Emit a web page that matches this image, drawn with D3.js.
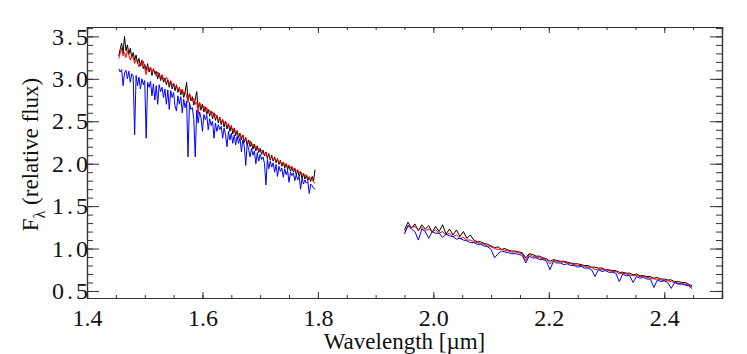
<!DOCTYPE html>
<html>
<head>
<meta charset="utf-8">
<script src="https://cdn.jsdelivr.net/npm/d3@7"></script>
<style>
  body { margin: 0; background: #fff; }
  svg { display: block; }
</style>
</head>
<body>
<div id="chart-area"></div>
<script>
// plot box inside the 747x354 window
const MARGIN = { LEFT: 87, RIGHT: 25, TOP: 27, BOTTOM: 56 }
const WIDTH = 747 - MARGIN.LEFT - MARGIN.RIGHT
const HEIGHT = 354 - MARGIN.TOP - MARGIN.BOTTOM
const FONT = "'Liberation Serif', 'Times New Roman', 'DejaVu Serif', serif"

// wavelength grids (microns): H band and K band
const H_START = 1.455, H_STEP = 0.0025
const K_START = 1.950, K_STEP = 0.006

// H band fluxes (1.455 - 1.795 um)
const hBlack = [
  3.27,3.35,3.42,3.30,3.50,3.33,3.40,3.29,3.36,3.25,
  3.31,3.22,3.28,3.18,3.24,3.15,3.22,3.12,3.17,3.10,
  3.18,3.08,3.14,3.04,3.12,3.06,3.09,3.00,3.07,2.98,
  3.04,2.96,3.01,2.93,2.99,2.90,2.97,2.88,2.94,2.86,
  2.93,2.84,2.90,2.81,2.87,2.78,2.84,2.96,2.76,2.82,
  2.74,2.79,2.69,2.75,2.85,2.66,2.72,2.63,2.70,2.61,
  2.67,2.58,2.64,2.56,2.62,2.53,2.60,2.51,2.57,2.48,
  2.55,2.46,2.52,2.43,2.50,2.41,2.47,2.38,2.45,2.35,
  2.42,2.33,2.39,2.30,2.36,2.28,2.34,2.25,2.31,2.22,
  2.28,2.20,2.25,2.17,2.23,2.15,2.21,2.13,2.18,2.11,
  2.16,2.09,2.14,2.06,2.12,2.04,2.10,2.03,2.08,2.01,
  2.06,1.99,2.04,1.97,2.02,1.95,2.00,1.93,1.98,1.91,
  1.96,1.90,1.94,1.87,1.92,1.85,1.90,1.83,1.88,1.82,
  1.86,1.80,1.84,1.79,1.85,1.80,1.93]
const hRed = [
  3.24,3.30,3.36,3.27,3.31,3.25,3.33,3.28,3.22,3.27,
  3.25,3.18,3.23,3.20,3.14,3.19,3.16,3.21,3.12,3.05,
  3.13,3.10,3.14,3.07,3.11,3.09,3.03,3.08,3.06,3.01,
  3.05,3.00,2.97,3.02,2.99,2.94,2.98,2.92,2.95,2.90,
  2.92,2.86,2.89,2.84,2.88,2.82,2.85,2.80,2.72,2.83,
  2.78,2.74,2.77,2.70,2.73,2.58,2.72,2.69,2.66,2.68,
  2.62,2.66,2.60,2.63,2.58,2.61,2.55,2.58,2.54,2.51,
  2.54,2.49,2.52,2.47,2.50,2.44,2.47,2.42,2.44,2.39,
  2.41,2.37,2.39,2.33,2.35,2.31,2.33,2.28,2.30,2.26,
  2.24,2.27,2.21,2.23,2.19,2.21,2.17,2.18,2.14,2.16,
  2.13,2.10,2.13,2.08,2.10,2.06,2.08,2.05,2.06,2.03,
  2.05,2.01,2.03,1.99,2.02,1.98,2.00,1.96,1.98,1.95,
  1.97,1.93,1.95,1.91,1.93,1.89,1.91,1.87,1.89,1.85,
  1.87,1.83,1.85,1.81,1.82,1.78,1.77]
const hBlue = [
  3.12,3.08,3.11,2.92,3.07,3.10,3.00,3.09,2.96,3.06,
  3.03,2.34,3.04,2.92,3.02,2.88,3.00,2.93,2.98,2.30,
  2.96,2.90,2.97,2.80,2.94,2.75,2.92,2.70,2.93,2.85,
  2.90,2.78,2.88,2.70,2.87,2.64,2.86,2.78,2.84,2.68,
  2.62,2.80,2.70,2.79,2.60,2.76,2.66,2.74,2.08,2.72,
  2.64,2.66,2.52,2.08,2.63,2.48,2.61,2.54,2.38,2.58,
  2.52,2.57,2.40,2.53,2.45,2.50,2.30,2.48,2.38,2.46,
  2.40,2.44,2.30,2.42,2.34,2.20,2.38,2.28,2.36,2.24,
  2.34,2.22,2.32,2.24,2.30,2.14,2.28,2.20,1.98,2.24,
  2.17,2.08,2.18,2.10,2.15,2.00,2.13,2.03,2.11,2.05,
  2.08,2.00,1.75,2.05,1.94,2.03,1.96,2.01,1.90,1.99,
  1.85,1.97,1.91,1.95,1.84,1.94,1.87,1.92,1.78,1.90,
  1.86,1.89,1.80,1.87,1.81,1.85,1.70,1.83,1.76,1.81,
  1.77,1.79,1.65,1.76,1.74,1.71,1.70]

// K band fluxes (1.950 - 2.448 um)
const kBlack = [
  1.22,1.31,1.24,1.29,1.21,1.28,1.23,1.27,1.19,1.26,1.20,1.28,1.17,1.23,1.16,1.22,1.14,1.20,1.12,1.16,
  1.10,1.08,1.08,1.06,1.05,1.03,1.01,1.02,0.99,1.00,0.98,0.97,0.97,0.96,0.95,0.89,0.94,0.93,0.91,0.91,
  0.89,0.88,0.85,0.87,0.86,0.85,0.85,0.84,0.83,0.82,0.82,0.81,0.80,0.80,0.78,0.78,0.77,0.77,0.75,0.75,
  0.74,0.74,0.72,0.72,0.71,0.71,0.69,0.70,0.68,0.68,0.67,0.67,0.65,0.66,0.64,0.64,0.63,0.63,0.61,0.61,
  0.60,0.60,0.58,0.56]
const kRed = [
  1.19,1.27,1.25,1.26,1.22,1.25,1.21,1.23,1.20,1.22,1.18,1.20,1.16,1.18,1.14,1.16,1.12,1.13,1.10,1.10,
  1.08,1.07,1.06,1.05,1.03,1.02,1.00,0.99,0.99,0.98,0.97,0.96,0.96,0.95,0.94,0.86,0.93,0.91,0.90,0.89,
  0.88,0.87,0.82,0.86,0.85,0.84,0.84,0.83,0.82,0.81,0.80,0.80,0.79,0.78,0.78,0.75,0.76,0.75,0.75,0.74,
  0.73,0.73,0.70,0.71,0.70,0.69,0.68,0.68,0.67,0.67,0.66,0.65,0.64,0.64,0.63,0.62,0.62,0.61,0.60,0.59,
  0.59,0.58,0.57,0.55]
const kBlue = [
  1.17,1.27,1.23,1.20,1.10,1.23,1.20,1.12,1.20,1.18,1.18,1.13,1.17,1.15,1.14,1.11,1.12,1.10,1.09,1.07,
  1.07,1.05,1.05,1.03,1.02,0.99,0.89,0.94,0.97,0.96,0.95,0.94,0.94,0.93,0.92,0.83,0.91,0.89,0.89,0.87,
  0.87,0.85,0.75,0.85,0.83,0.83,0.81,0.82,0.80,0.80,0.78,0.79,0.77,0.77,0.75,0.67,0.75,0.73,0.74,0.72,
  0.72,0.71,0.61,0.70,0.68,0.68,0.60,0.67,0.65,0.66,0.64,0.64,0.54,0.63,0.61,0.62,0.60,0.53,0.60,0.58,
  0.58,0.57,0.56,0.53]

const xTicks = [1.4, 1.6, 1.8, 2.0, 2.2, 2.4]
const yTicks = [0.5, 1.0, 1.5, 2.0, 2.5, 3.0, 3.5]

const svg = d3.select('#chart-area').append("svg")
    .attr("width", 747)
    .attr("height", 354)

const g = svg.append("g")
    .attr("transform", `translate(${MARGIN.LEFT},${MARGIN.TOP})`)

const x = d3.scaleLinear()
    .domain([1.4, 2.5])
    .range([0, WIDTH])

const y = d3.scaleLinear()
    .domain([0.417, 3.611])
    .range([HEIGHT, 0])

// turn a flux array into [wavelength, flux] pairs
const toPoints = (start, step, vals) => vals.map((v, i) => [start + i * step, v])

const line = d3.line()
    .x(d => x(d[0]))
    .y(d => y(d[1]))

const series = [
    { pts: toPoints(H_START, H_STEP, hBlack), color: "#000" },
    { pts: toPoints(K_START, K_STEP, kBlack), color: "#000" },
    { pts: toPoints(H_START, H_STEP, hRed), color: "#ff0000" },
    { pts: toPoints(K_START, K_STEP, kRed), color: "#ff0000" },
    { pts: toPoints(H_START, H_STEP, hBlue), color: "#0000ff" },
    { pts: toPoints(K_START, K_STEP, kBlue), color: "#0000ff" }
]

g.selectAll("path.spec")
    .data(series)
    .enter()
    .append("path")
    .attr("class", "spec")
    .attr("fill", "none")
    .attr("stroke", d => d.color)
    .attr("stroke-width", 1)
    .attr("stroke-linejoin", "round")
    .attr("d", d => line(d.pts))

// axes: ticks point inward, minor ticks in between, mirrored on top/right
const xMinor = d3.range(1.4, 2.5001, 0.05)
const yMinor = d3.range(0.5, 3.6001, 0.1)

const axisColor = "#333"

g.append("g").attr("transform", `translate(0,${HEIGHT})`)
    .call(d3.axisBottom(x).tickValues(xMinor).tickSize(-3).tickFormat(""))
g.append("g")
    .call(d3.axisTop(x).tickValues(xMinor).tickSize(-3).tickFormat(""))
g.append("g")
    .call(d3.axisLeft(y).tickValues(yMinor).tickSize(-6).tickFormat(""))
g.append("g").attr("transform", `translate(${WIDTH},0)`)
    .call(d3.axisRight(y).tickValues(yMinor).tickSize(-6).tickFormat(""))

// major ticks with labels
g.append("g").attr("transform", `translate(0,${HEIGHT})`)
    .call(d3.axisBottom(x).tickValues(xTicks).tickSize(-6).tickFormat(d3.format(".1f")).tickPadding(11))
    .call(s => s.selectAll("text").style("font-family", FONT).style("font-size", "24px").attr("fill", "#111"))
g.append("g")
    .call(d3.axisTop(x).tickValues(xTicks).tickSize(-6).tickFormat(""))
g.append("g")
    .call(d3.axisLeft(y).tickValues(yTicks).tickSize(-12).tickFormat(d3.format(".1f")).tickPadding(-4))
    .call(s => s.selectAll("text").style("font-family", FONT).style("font-size", "24px")
        .style("letter-spacing", "3px").attr("fill", "#111"))
g.append("g").attr("transform", `translate(${WIDTH},0)`)
    .call(d3.axisRight(y).tickValues(yTicks).tickSize(-12).tickFormat(""))

g.selectAll(".domain").attr("stroke", axisColor).attr("stroke-width", 1.2)
g.selectAll(".tick line").attr("stroke", axisColor)

// axis titles
g.append("text")
    .attr("x", WIDTH / 2)
    .attr("y", HEIGHT + 51)
    .style("font-family", FONT)
    .style("font-size", "23px")
    .attr("text-anchor", "middle")
    .attr("fill", "#111")
    .text("Wavelength [µm]")

const yt = g.append("text")
    .attr("x", -(HEIGHT / 2) + 8)
    .attr("y", -49)
    .style("font-family", FONT)
    .style("font-size", "23px")
    .attr("text-anchor", "middle")
    .attr("fill", "#111")
    .attr("transform", "rotate(-90)")
yt.append("tspan").text("F")
yt.append("tspan").attr("dy", 7).style("font-size", "16px").text("λ")
yt.append("tspan").attr("dy", -7).text(" (relative flux)")
</script>
</body>
</html>
